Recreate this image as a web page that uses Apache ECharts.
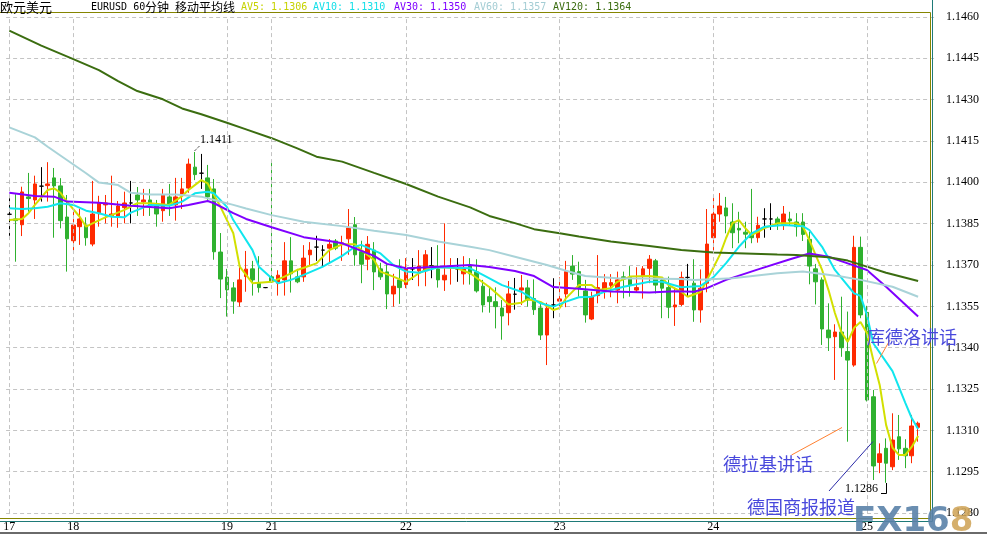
<!DOCTYPE html>
<html><head><meta charset="utf-8">
<script src="https://cdn.jsdelivr.net/npm/echarts@6/dist/echarts.min.js"></script>
<style>html,body{margin:0;padding:0;background:#fff;}#c{width:987px;height:534px;}</style>
</head><body><div id="c"></div>
<script>
// ---- data ----
const dayStarts = [0, 10, 34, 41, 62, 86, 110, 134];
const dayNames = ['17', '18', '19', '21', '22', '23', '24', '25'];
const slotCount = 145;
const yTickMin = 1.1280, yTickMax = 1.1460, yTickStep = 0.0015;

const open = [1.13884,1.13867,1.13846,1.13947,1.13936,1.13986,1.13988,1.14016,1.13987,1.13874,
1.13788,1.13839,1.13845,1.13776,1.13886,1.13918,1.13879,1.13875,1.13908,1.13925,
1.13954,1.13929,1.13936,1.13914,1.13897,1.13947,1.13918,1.13958,1.13979,1.14055,
1.14033,1.14016,1.13976,1.13747,1.13656,1.13617,1.13566,1.13658,1.13686,1.13634,
1.13618,1.13657,1.13634,1.13646,1.13715,1.13657,1.13657,1.13737,1.13765,1.13754,
1.13761,1.13787,1.13774,1.13795,1.13846,1.13748,1.13721,1.13754,1.13686,1.13675,
1.13595,1.13646,1.13629,1.13686,1.13679,1.13679,1.13697,1.13686,1.13646,1.13692,
1.13686,1.13668,1.13696,1.13675,1.13623,1.13585,1.13567,1.13544,1.13527,1.13594,
1.13609,1.13617,1.13578,1.13544,1.13446,1.13555,1.13569,1.13595,1.13696,1.13676,
1.13606,1.13504,1.13589,1.13607,1.13626,1.13609,1.13657,1.13655,1.13609,1.13658,
1.13688,1.13715,1.13646,1.13618,1.13548,1.13557,1.13655,1.13634,1.13537,1.13634,
1.13799,1.13885,1.13907,1.13856,1.13833,1.13819,1.13815,1.13799,1.13867,1.13867,
1.13867,1.13848,1.13867,1.13856,1.13856,1.13793,1.13686,1.13646,1.13464,1.13440,
1.13457,1.13386,1.13337,1.13764,1.13528,1.13222,1.12984,1.13035,1.12968,1.13077,
1.13035,1.13008,1.13111];
const close = [1.13884,1.13861,1.13965,1.13941,1.13994,1.13986,1.13994,1.13987,1.13861,1.13795,
1.13845,1.13867,1.13799,1.13885,1.13925,1.13925,1.13885,1.13914,1.13925,1.13925,
1.13936,1.13936,1.13918,1.13885,1.13954,1.13918,1.13947,1.13976,1.14066,1.14028,
1.14033,1.13947,1.13748,1.13649,1.13610,1.13569,1.13646,1.13685,1.13646,1.13618,
1.13618,1.13639,1.13663,1.13715,1.13668,1.13639,1.13725,1.13754,1.13765,1.13754,
1.13775,1.13761,1.13780,1.13834,1.13737,1.13703,1.13775,1.13675,1.13657,1.13595,
1.13623,1.13618,1.13686,1.13686,1.13696,1.13737,1.13697,1.13646,1.13663,1.13697,
1.13686,1.13686,1.13668,1.13606,1.13555,1.13567,1.13549,1.13515,1.13595,1.13594,
1.13617,1.13573,1.13538,1.13446,1.13543,1.13555,1.13577,1.13676,1.13667,1.13618,
1.13519,1.13585,1.13618,1.13636,1.13636,1.13646,1.13649,1.13627,1.13618,1.13686,
1.13721,1.13627,1.13616,1.13547,1.13555,1.13655,1.13655,1.13537,1.13616,1.13776,
1.13885,1.13914,1.13878,1.13817,1.13827,1.13812,1.13799,1.13844,1.13867,1.13867,
1.13849,1.13885,1.13860,1.13839,1.13811,1.13696,1.13639,1.13468,1.13436,1.13457,
1.13400,1.13355,1.13764,1.13519,1.13210,1.12971,1.13015,1.12981,1.13065,1.13033,
1.13008,1.13116,1.13126];
const low = [1.13806,1.13712,1.13805,1.13893,1.13867,1.13930,1.13930,1.13799,1.13833,1.13676,
1.13748,1.13773,1.13770,1.13768,1.13839,1.13851,1.13839,1.13835,1.13851,1.13851,
1.13878,1.13878,1.13878,1.13839,1.13857,1.13878,1.13861,1.13903,1.13962,1.14008,
1.13976,1.13936,1.13719,1.13580,1.13513,1.13523,1.13549,1.13603,1.13589,1.13600,
1.13616,1.13635,1.13589,1.13589,1.13600,1.13634,1.13639,1.13697,1.13715,1.13697,
1.13708,1.13754,1.13715,1.13737,1.13697,1.13634,1.13681,1.13609,1.13646,1.13540,
1.13549,1.13559,1.13616,1.13646,1.13623,1.13623,1.13652,1.13618,1.13606,1.13629,
1.13639,1.13629,1.13629,1.13600,1.13528,1.13527,1.13470,1.13429,1.13481,1.13538,
1.13555,1.13549,1.13519,1.13428,1.13337,1.13507,1.13549,1.13547,1.13646,1.13585,
1.13491,1.13500,1.13561,1.13578,1.13583,1.13561,1.13579,1.13585,1.13600,1.13578,
1.13634,1.13597,1.13507,1.13507,1.13479,1.13551,1.13585,1.13494,1.13491,1.13601,
1.13751,1.13857,1.13815,1.13761,1.13779,1.13761,1.13779,1.13781,1.13799,1.13827,
1.13827,1.13827,1.13845,1.13803,1.13787,1.13630,1.13557,1.13410,1.13388,1.13283,
1.13367,1.13059,1.13331,1.13507,1.13205,1.12920,1.12945,1.12910,1.12956,1.12993,
1.12963,1.12981,1.13059];
const high = [1.13942,1.13957,1.13984,1.14034,1.14024,1.14055,1.14073,1.14052,1.14015,1.13954,
1.13897,1.13904,1.13873,1.14005,1.13951,1.13954,1.14024,1.13932,1.13966,1.14005,
1.13983,1.13976,1.13976,1.13936,1.13976,1.13994,1.14016,1.14016,1.14086,1.14110,
1.14103,1.14063,1.14012,1.13816,1.13686,1.13638,1.13700,1.13751,1.13715,1.13732,
1.13620,1.14074,1.13681,1.13783,1.13801,1.13686,1.13772,1.13783,1.13806,1.13772,
1.13794,1.13794,1.13806,1.13903,1.13874,1.13788,1.13805,1.13783,1.13708,1.13703,
1.13668,1.13721,1.13725,1.13725,1.13754,1.13754,1.13765,1.13772,1.13851,1.13725,
1.13725,1.13732,1.13725,1.13721,1.13646,1.13619,1.13619,1.13573,1.13642,1.13653,
1.13664,1.13646,1.13648,1.13561,1.13563,1.13652,1.13655,1.13715,1.13736,1.13712,
1.13646,1.13603,1.13736,1.13667,1.13667,1.13676,1.13676,1.13696,1.13692,1.13696,
1.13736,1.13722,1.13655,1.13658,1.13618,1.13676,1.13704,1.13721,1.13684,1.13903,
1.13946,1.13961,1.13947,1.13924,1.13893,1.13857,1.13976,1.13875,1.13906,1.13924,
1.13875,1.13914,1.13893,1.13888,1.13888,1.13821,1.13704,1.13655,1.13561,1.13485,
1.13585,1.13531,1.13806,1.13803,1.13552,1.13247,1.13053,1.13071,1.13162,1.13156,
1.13068,1.13156,1.13132];

// moving average lines as [candle index, value]
const av5 = [[0,1.13863],[2,1.13867],[3,1.13888],[4,1.13918],[6,1.13972],[7,1.13978],[8,1.13962],[9,1.13930],
[11,1.13875],[12,1.13839],[13,1.13851],[15,1.13873],[16,1.13881],[18,1.13900],[20,1.13924],[22,1.13924],
[25,1.13918],[27,1.13950],[28,1.13972],[30,1.14008],[31,1.13996],[33,1.13911],[35,1.13815],[36,1.13694],
[38,1.13634],[41,1.13639],[43,1.13658],[45,1.13682],[48,1.13706],[50,1.13754],[52,1.13775],[54,1.13775],
[55,1.13754],[57,1.13718],[58,1.13676],[60,1.13658],[62,1.13639],[64,1.13670],[66,1.13694],[68,1.13692],
[70,1.13688],[72,1.13670],[75,1.13620],[77,1.13579],[78,1.13557],[80,1.13563],[81,1.13576],[83,1.13566],
[85,1.13537],[86,1.13544],[87,1.13580],[89,1.13627],[91,1.13627],[92,1.13609],[94,1.13616],[95,1.13639],
[97,1.13658],[100,1.13660],[102,1.13655],[103,1.13627],[105,1.13603],[106,1.13585],[108,1.13602],[109,1.13645],
[110,1.13690],[111,1.13736],[112,1.13798],[113,1.13852],[114,1.13863],[115,1.13834],[116,1.13809],[117,1.13820],
[118,1.13834],[120,1.13851],[123,1.13851],[124,1.13839],[125,1.13791],[126,1.13736],[127,1.13682],[128,1.13609],
[129,1.13526],[130,1.13457],[131,1.13421],[132,1.13472],[133,1.13493],[134,1.13453],[135,1.13355],[136,1.13265],
[137,1.13120],[138,1.13037],[139,1.13011],[140,1.13011],[141,1.13040],[142,1.13080]];
const av10 = [[0,1.13906],[2,1.13903],[4,1.13906],[6,1.13911],[8,1.13924],[10,1.13918],[12,1.13897],[14,1.13888],
[16,1.13875],[18,1.13873],[19,1.13890],[22,1.13918],[25,1.13915],[27,1.13930],[29,1.13960],[31,1.13966],
[32,1.13960],[34,1.13911],[35,1.13863],[36,1.13827],[38,1.13754],[39,1.13694],[41,1.13652],[42,1.13634],
[44,1.13646],[46,1.13664],[49,1.13694],[52,1.13733],[54,1.13766],[55,1.13773],[58,1.13742],[60,1.13700],
[62,1.13676],[64,1.13672],[67,1.13692],[72,1.13688],[74,1.13664],[77,1.13627],[80,1.13603],[83,1.13561],
[85,1.13549],[87,1.13567],[89,1.13583],[91,1.13585],[93,1.13603],[96,1.13621],[100,1.13639],[102,1.13639],
[105,1.13619],[108,1.13624],[110,1.13655],[112,1.13707],[114,1.13766],[116,1.13815],[118,1.13839],[121,1.13845],
[124,1.13841],[125,1.13827],[127,1.13766],[129,1.13682],[132,1.13597],[133,1.13588],[134,1.13519],[135,1.13416],
[138,1.13315],[140,1.13200],[141,1.13145],[142,1.13105]];
const av30 = [[0,1.13962],[4,1.13950],[7,1.13948],[9,1.13930],[14,1.13926],[19,1.13915],[25,1.13906],[28,1.13918],
[31,1.13932],[32,1.13924],[35,1.13888],[37,1.13867],[41,1.13837],[46,1.13801],[50,1.13787],[52,1.13779],
[57,1.13733],[59,1.13704],[62,1.13688],[67,1.13694],[72,1.13700],[75,1.13693],[79,1.13678],[82,1.13660],
[85,1.13620],[89,1.13614],[94,1.13604],[100,1.13600],[104,1.13605],[107,1.13603],[109,1.13616],[112,1.13646],
[117,1.13684],[122,1.13721],[125,1.13742],[128,1.13730],[131,1.13706],[134,1.13682],[137,1.13621],[142,1.13513]];
const av60 = [[0,1.14199],[4,1.14163],[6,1.14129],[9,1.14081],[12,1.14033],[14,1.13999],[17,1.13990],[19,1.13962],
[22,1.13956],[26,1.13956],[30,1.13948],[32,1.13936],[35,1.13918],[37,1.13905],[41,1.13881],[46,1.13857],
[52,1.13841],[57,1.13824],[62,1.13809],[67,1.13785],[72,1.13766],[75,1.13754],[79,1.13730],[84,1.13700],
[87,1.13679],[90,1.13660],[95,1.13652],[105,1.13649],[107,1.13646],[113,1.13652],[120,1.13670],[124,1.13676],
[130,1.13658],[133,1.13646],[138,1.13621],[142,1.13585]];
const av120 = [[0,1.14550],[5,1.14496],[10,1.14447],[14,1.14407],[17,1.14367],[20,1.14331],[24,1.14301],[27,1.14268],
[30,1.14247],[34,1.14216],[37,1.14192],[41,1.14160],[45,1.14123],[48,1.14093],[52,1.14075],[57,1.14034],
[62,1.13994],[67,1.13948],[72,1.13909],[75,1.13878],[79,1.13852],[82,1.13830],[86,1.13815],[89,1.13803],
[94,1.13785],[100,1.13769],[105,1.13754],[110,1.13745],[115,1.13742],[120,1.13738],[123,1.13736],[128,1.13728],
[131,1.13716],[134,1.13694],[137,1.13672],[142,1.13642]];

const maNames = ['AV5', 'AV10', 'AV30', 'AV60', 'AV120'];
const maLast = ['1.1306', '1.1310', '1.1350', '1.1357', '1.1364'];

// ---- chart ----
const UP = '#ff2a00', DOWN = '#2fb12f', DOJI = '#000000';
const maColors = ['#d2e000', '#10e6ee', '#7f00ff', '#a9d3d8', '#3b6d10'];
const categories = Array.from({length: slotCount}, (_, i) => String(i));
const dayLabel = {};
dayStarts.forEach((d, k) => { dayLabel[d] = dayNames[k]; });

const candleData = open.map((o, i) => {
  const item = { value: [o, close[i], low[i], high[i]] };
  if (o === close[i]) item.itemStyle = { color: DOJI, color0: DOJI, borderColor: DOJI, borderColor0: DOJI };
  return item;
});

const chart = echarts.init(document.getElementById('c'), null, { renderer: 'canvas' });
const CJK = '"Noto Sans CJK SC"';
const maSeries = [av5, av10, av30, av60, av120].map((d, k) => ({
  name: maNames[k], type: 'line', data: d, showSymbol: false, symbol: 'none',
  lineStyle: { color: maColors[k], width: 2 }, z: 3 + (4 - k) * 0 , silent: true
}));

chart.setOption({
  animation: false,
  backgroundColor: '#ffffff',
  grid: { left: 6.1, right: 52.9, top: 16.9, bottom: 20.9 },
  xAxis: {
    type: 'category', data: categories, boundaryGap: true,
    axisLine: { show: false }, axisTick: { show: false }, splitLine: { show: false },
    axisLabel: { interval: 0, margin: 8, color: '#000', fontFamily: 'Liberation Serif', fontSize: 12,
      formatter: (v, i) => dayLabel[i] || '' }
  },
  yAxis: {
    type: 'value', position: 'right', min: yTickMin, max: yTickMax, interval: yTickStep,
    axisLine: { show: false }, axisTick: { show: false },
    splitLine: { lineStyle: { color: '#c4c4c4', type: [4, 3], width: 1 } },
    axisLabel: { margin: 12, color: '#000', fontFamily: 'Liberation Serif', fontSize: 12,
      formatter: v => v.toFixed(4) }
  },
  series: [
    {
      type: 'candlestick', data: candleData, barWidth: 4, z: 2, silent: true,
      itemStyle: { color: UP, color0: DOWN, borderColor: UP, borderColor0: DOWN, borderColorDoji: DOJI, borderWidth: 1 },
      markLine: {
        silent: true, symbol: 'none', label: { show: false },
        lineStyle: { color: '#c4c4c4', type: [4, 3], width: 1 },
        data: dayStarts.map(i => ({ xAxis: categories[i] }))
      }
    }
  ].concat(maSeries),
  graphic: [
    // frame
    { type: 'line', shape: { x1: 0, y1: 12.5, x2: 930.5, y2: 12.5 }, style: { stroke: '#858500', lineWidth: 1 }, z: 10 },
    { type: 'line', shape: { x1: 0, y1: 518.5, x2: 930.5, y2: 518.5 }, style: { stroke: '#858500', lineWidth: 1 }, z: 10 },
    { type: 'line', shape: { x1: 930.5, y1: 12.5, x2: 930.5, y2: 518.5 }, style: { stroke: '#858500', lineWidth: 1 }, z: 10 },
    { type: 'line', shape: { x1: 932.5, y1: 0, x2: 932.5, y2: 521.5 }, style: { stroke: '#1e7a78', lineWidth: 1 }, z: 10 },
    { type: 'line', shape: { x1: 0, y1: 521.5, x2: 932.5, y2: 521.5 }, style: { stroke: '#1e7a78', lineWidth: 1 }, z: 10 },
    { type: 'rect', shape: { x: 0, y: 532, width: 987, height: 2 }, style: { fill: '#6a6a6a' }, z: 10 },
    // title
    { type: 'text', x: 0, y: 7, style: { text: '欧元美元', font: '13px ' + CJK, fill: '#000', verticalAlign: 'middle' }, z: 10 },
    { type: 'text', x: 91, y: 7, style: { text: 'EURUSD 60', font: '10px "DejaVu Sans Mono"', fill: '#000', verticalAlign: 'middle' }, z: 10 },
    { type: 'text', x: 145, y: 7, style: { text: '分钟', font: '12px ' + CJK, fill: '#000', verticalAlign: 'middle' }, z: 10 },
    { type: 'text', x: 175, y: 7, style: { text: '移动平均线', font: '12px ' + CJK, fill: '#000', verticalAlign: 'middle' }, z: 10 },
    { type: 'text', x: 241, y: 7, style: { text: maNames[0] + ': ' + maLast[0], font: '10px "DejaVu Sans Mono"', fill: '#c6d200', verticalAlign: 'middle' }, z: 10 },
    { type: 'text', x: 313, y: 7, style: { text: maNames[1] + ': ' + maLast[1], font: '10px "DejaVu Sans Mono"', fill: '#12dfe8', verticalAlign: 'middle' }, z: 10 },
    { type: 'text', x: 394, y: 7, style: { text: maNames[2] + ': ' + maLast[2], font: '10px "DejaVu Sans Mono"', fill: '#7f00ff', verticalAlign: 'middle' }, z: 10 },
    { type: 'text', x: 474, y: 7, style: { text: maNames[3] + ': ' + maLast[3], font: '10px "DejaVu Sans Mono"', fill: '#a4cdd4', verticalAlign: 'middle' }, z: 10 },
    { type: 'text', x: 553, y: 7, style: { text: maNames[4] + ': ' + maLast[4], font: '10px "DejaVu Sans Mono"', fill: '#3b6d10', verticalAlign: 'middle' }, z: 10 },
    // max / min labels
    { type: 'line', shape: { x1: 194.5, y1: 151, x2: 200, y2: 145.5 }, style: { stroke: '#000', lineWidth: 1, lineDash: [1, 1] }, z: 10 },
    { type: 'text', x: 200, y: 139.5, style: { text: '1.1411', font: '12px "Liberation Serif"', fill: '#000', verticalAlign: 'middle' }, z: 10 },
    { type: 'polyline', shape: { points: [[886.5, 483], [886.5, 493.5], [881, 493.5]] }, style: { stroke: '#000', lineWidth: 1, fill: null }, z: 10 },
    { type: 'text', x: 845, y: 489, style: { text: '1.1286', font: '12px "Liberation Serif"', fill: '#000', verticalAlign: 'middle' }, z: 10 },
    // annotations
    { type: 'line', shape: { x1: 876.5, y1: 363.5, x2: 890, y2: 340 }, style: { stroke: '#ff8030', lineWidth: 1 }, z: 10 },
    { type: 'line', shape: { x1: 791.5, y1: 455, x2: 842, y2: 427.5 }, style: { stroke: '#ff8030', lineWidth: 1 }, z: 10 },
    { type: 'line', shape: { x1: 829, y1: 491, x2: 873, y2: 441.5 }, style: { stroke: '#2a2aa8', lineWidth: 1 }, z: 10 },
    { type: 'text', x: 867, y: 337, style: { text: '库德洛讲话', font: '18px ' + CJK, fill: '#4848dc', verticalAlign: 'middle' }, z: 10 },
    { type: 'text', x: 723, y: 464.5, style: { text: '德拉基讲话', font: '18px ' + CJK, fill: '#4848dc', verticalAlign: 'middle' }, z: 10 },
    { type: 'text', x: 747, y: 507.5, style: { text: '德国商报报道', font: '18px ' + CJK, fill: '#4848dc', verticalAlign: 'middle' }, z: 10 },
    // watermark
    { type: 'text', x: 853, y: 522, style: {
        text: '{a|FX16}{b|8}', verticalAlign: 'middle', opacity: 0.9,
        rich: {
          a: { font: 'bold 34px "DejaVu Sans"', fill: '#5a82a8' },
          b: { font: 'bold 34px "DejaVu Sans"', fill: '#d0a65c' }
        } }, z: 20 }
  ]
});
</script>
</body></html>
